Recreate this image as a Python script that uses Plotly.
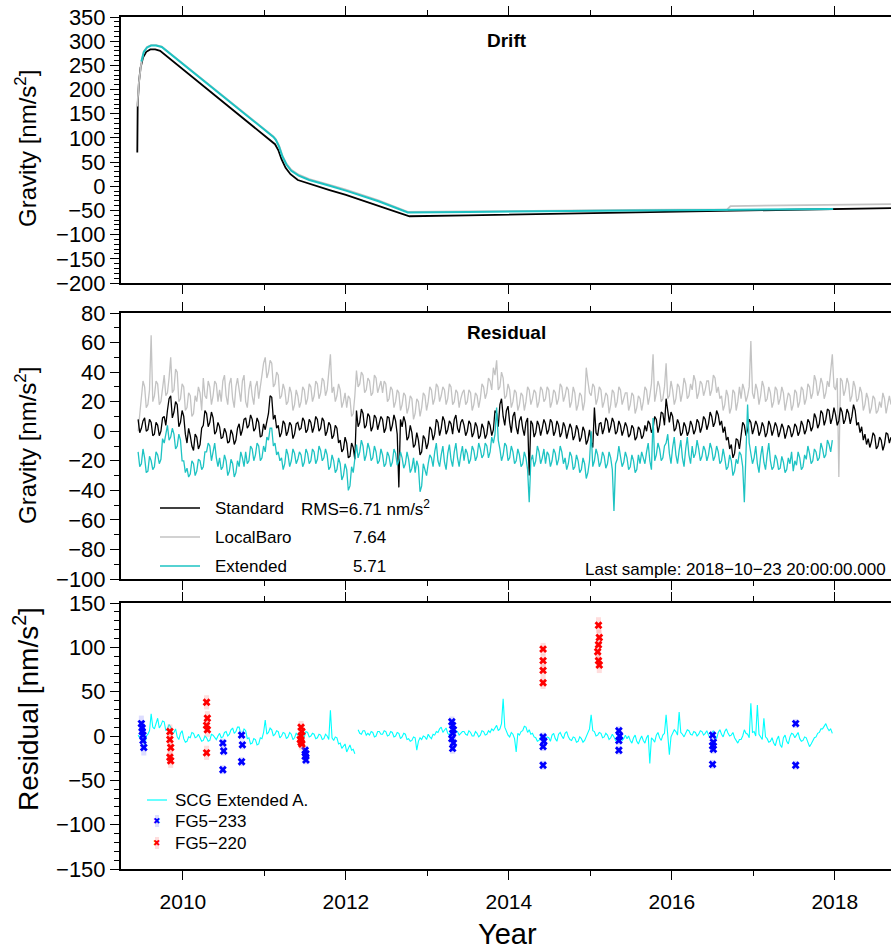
import numpy as np
import plotly.graph_objects as go

W, H = 891, 949
FONT = "Liberation Sans, Arial, Helvetica, sans-serif"

# ---------------- Drift panel (nm/s^2) ----------------
drift_std_t = [2009.44, 2009.445, 2009.46, 2009.48, 2009.51, 2009.55, 2009.60, 2009.66, 2009.72,
               2011.10, 2011.13, 2011.17, 2011.21, 2011.26, 2011.32, 2011.41, 2011.55, 2011.8,
               2012.0, 2012.4, 2012.78, 2013.5, 2014.5, 2015.5, 2016.5, 2017.5, 2018.69]
drift_std_v = [70, 170, 215, 245, 266, 278, 283, 283, 280,
               92, 87, 75, 56, 38, 25, 13, 5, -8,
               -18, -40, -62, -60, -57, -54, -51, -48, -45]

drift_baro_t = [2009.44, 2009.46, 2009.49, 2009.52, 2009.56, 2009.61, 2009.67, 2009.74,
                2011.11, 2011.14, 2011.18, 2011.22, 2011.27, 2011.33, 2011.42, 2011.55, 2011.8,
                2012.0, 2012.4, 2012.76, 2013.5, 2014.5, 2015.5, 2016.68, 2016.72, 2018.69]
drift_baro_v = [165, 215, 256, 279, 288, 292, 292, 289,
                103, 97, 84, 64, 47, 34, 24, 15, 3,
                -7, -29, -53, -52, -50, -49, -48, -41, -37]

drift_ext_t = [2009.49, 2009.52, 2009.56, 2009.61, 2009.67, 2009.74,
               2011.11, 2011.14, 2011.18, 2011.22, 2011.27, 2011.33, 2011.42, 2011.55, 2011.8,
               2012.0, 2012.4, 2012.76, 2013.5, 2014.5, 2015.5, 2016.5, 2017.98]
drift_ext_v = [258, 278, 287, 291, 291, 288,
               102, 96, 82, 62, 45, 32, 22, 13, 1,
               -9, -31, -54, -53, -51, -50, -49, -47]

# ---------------- Residual panel: regular sampling grid ----------------
RES_T0 = 2009.45
RES_STEP = 0.02

res_std = [
    8, -1, 2, 7, 9, 0, 1, 8, 6, -3, -2, 6, 4, -3, 0, 9, 10, 4, 14, 22, 24, 9, 13, 20, 18, 3, 6, 14, 10, -2,
    -8, 2, -3, -10, -13, -2, -4, -12, -9, 2, 4, 14, 12, 3, 6, 13, 9, -2, 0, 6,
    3, -5, -4, 2, -1, -8, -7, 1, -2, -9, -6, 2, 5, -3, 1, 8, 9, 2, 4, 11, 8, 0, 2, 9, 6, -4, -3, 5, 1, 8,
    12, 24, 23, 8, 11, 2, 4, -4, -1, 7, 5, -3, 0, 6, 4, -5, -2, 5, 6, 1,
    2, 9, 7, -1, 1, 8, 6, -1, 3, 10, 8, 0, 2, 9, 7, -3, 0, 6, 4, -5, -3, 4, 2, -8, -6, -14, -12, -4, -8, -18,
    -17, -8, -11, -19, 14, 3, 6, 15, 12, 2, 4, 12, 10, 0, 3, 11, 9, 1, 5, 10,
    8, -1, 2, 10, 9, 0, 4, 11, 7, -2, -38, 8, 3, 10, 6, -6, -4, 4, -1, -11, -9, -1, -6, -16, -14, -3, -5, -12, -8, 3,
    1, -6, -2, 8, 6, -3, 2, 10, 7, -2, 1, 7, 5, -2, 8, 11, 2, -1, 6, 8,
    4, -3, 0, 7, 5, -4, -1, 6, 3, -5, -3, 5, 2, -5, -2, 7, 4, -3, 1, 14, 12, 3, 18, 22, 10, 4, 14, 17, 6, -1,
    10, 13, 3, -2, 7, 10, 2, -3, 6, 9, -30, 7, 5, -4, -1, 7, 4, -3, 2, 8,
    5, -2, 1, 8, 6, -3, 0, 7, 4, -4, -1, 6, 3, -5, 0, 5, 2, -6, -3, 4, 1, -7, -4, 3, 0, -9, -6, 1, -7, -11,
    16, -1, -3, 5, 6, -2, 2, 9, 7, -1, 3, 9, 6, -2, 0, 7, 4, -3, 1, 6,
    3, -4, -2, 4, 2, -6, -4, 3, 1, -5, -3, 4, 0, 7, 5, -1, 2, 10, 8, -1, 4, 13, 12, 4, 22, 14, 6, 13, 10, 0,
    2, 8, 5, -3, -1, 6, 3, -3, 0, 7, 4, -2, 1, 8, 6, -1, 3, 10, 8, 1,
    5, 13, 10, 3, 6, 14, 11, 4, 7, -1, 3, -6, -4, -12, -9, -18, -15, -5, -6, -12, -2, 6, 4, -3, 1, 8, 6, -2, 2, 7,
    4, -3, 0, 6, 3, -4, -1, 7, 4, -3, 1, 6, 3, -4, 0, 5, 2, -5, -1, 4,
    2, -4, -1, 5, 3, -3, 0, 7, 4, -2, 1, 8, 6, 0, 3, 12, 9, 2, 5, 14, 12, 4, 8, 15, 14, 5, 9, 16, 11, 4,
    7, 16, 13, 5, 8, 15, 12, 5, 10, 18, 14, 4, 6, -1, 3, -6, -2, -9, -5, -11,
    -7, -1, -3, -12, -10, -4, -6, -13, -9, -1, -2, -8, -4,
]

res_baro = [
    0, 12, 22, 34, 30, 16, 18, 28, 65, 20, 24, 34, 32, 18, 20, 30, 38, 24, 26, 36,
    50, 26, 28, 42, 40, 20, 22, 32, 30, 14, 16, 26, 24, 10, 12, 24, 20, 30, 26, 14,
    36, 24, 22, 34, 30, 18, 24, 34, 32, 20,
    28, 20, 34, 38, 24, 18, 32, 36, 22, 16, 30, 36, 26, 20, 34, 38, 20, 16, 28, 34,
    24, 18, 30, 34, 22, 30, 38, 46, 50, 36, 40, 48, 46, 30, 32, 40, 38, 22, 24, 32,
    28, 18, 20, 30, 26, 14, 18, 28, 24, 16,
    20, 30, 28, 18, 22, 32, 30, 20, 24, 34, 32, 22, 26, 36, 34, 24, 28, 40, 52, 26,
    30, 20, 24, 32, 28, 16, 20, 26, 16, 24, 22, 10, 12, 24, 41, 30, 32, 40, 38, 26,
    28, 36, 34, 24, 26, 38, 36, 26, 30, 34,
    26, 34, 32, 20, 22, 30, 28, 16, 20, 28, 26, 14, 18, 26, 24, 12, 16, 24, 22, 8,
    12, 22, 20, 10, 16, 26, 24, 14, 20, 30, 28, 18, 22, 32, 30, 20, 24, 30, 28, 18,
    22, 32, 30, 18, 20, 28, 26, 16, 22, 26,
    28, 18, 20, 28, 26, 14, 18, 26, 24, 16, 22, 32, 30, 22, 26, 36, 34, 28, 43, 38,
    48, 28, 30, 40, 36, 22, 24, 32, 28, 16, 20, 28, 26, 14, 18, 26, 24, 14, 20, 30,
    28, 18, 22, 28, 26, 16, 20, 30, 28, 20,
    22, 30, 28, 16, 20, 28, 26, 18, 22, 32, 30, 20, 24, 30, 28, 16, 20, 30, 26, 14,
    18, 26, 24, 14, 20, 43, 34, 26, 24, 32, 30, 18, 22, 30, 28, 16, 20, 26, 24, 12,
    18, 28, 26, 16, 20, 30, 28, 18, 22, 26,
    26, 14, 18, 26, 24, 12, 16, 24, 22, 14, 20, 30, 28, 18, 24, 32, 52, 20, 26, 34,
    30, 20, 22, 30, 46, 22, 24, 34, 28, 18, 22, 32, 30, 20, 26, 36, 32, 22, 24, 32,
    28, 38, 34, 22, 26, 34, 32, 24, 28, 34,
    34, 24, 28, 38, 36, 26, 30, 22, 24, 14, 18, 28, 24, 12, 16, 28, 26, 14, 20, 30,
    22, 32, 28, 20, 24, 30, 61, 26, 22, 32, 28, 18, 24, 34, 30, 20, 22, 30, 26, 16,
    20, 30, 28, 18, 22, 30, 26, 14, 20, 26,
    24, 14, 18, 28, 26, 16, 20, 30, 28, 18, 22, 32, 30, 22, 26, 38, 34, 24, 28, 36,
    32, 22, 26, 34, 30, 40, 52, 30, 28, 36, -31, 36, 34, 24, 28, 36, 32, 20, 24, 34,
    30, 20, 22, 30, 26, 14, 18, 26, 22, 12,
    16, 24, 22, 12, 14, 20, 16, 26, 22, 12, 18, 24, 18,
]

res_ext = [
    -14, -24, -22, -12, -18, -28, -27, -17, -20, -26, -24, -14, -16, -22, -19, -5, -8, -2, 4, -6,
    -4, 2, -2, -12, -10, -2, -6, -20, -20, -28, -25, -31, -29, -20, -22, -30, -27, -19, -20, -26,
    -24, -14, -14, -8, -10, -20, -14, -8, -18, -24,
    -18, -26, -24, -16, -20, -30, -27, -19, -22, -31, -28, -20, -24, -14, -18, -24, -14, -22, -20, -10,
    -12, -20, -16, -8, -10, -20, -18, -10, -14, -4, -6, 2, 2, -10, -8, -16, -14, -20, -18, -26,
    -22, -12, -16, -24, -20, -12, -15, -22, -19, -14,
    -16, -24, -21, -12, -15, -22, -20, -12, -14, -22, -19, -10, -13, -20, -18, -12, -16, -26, -24, -16,
    -20, -28, -26, -18, -22, -33, -30, -22, -26, -40, -37, -24, -28, -16, -9, -18, -14, -6, -10, -20,
    -16, -8, -12, -20, -18, -10, -14, -22, -20, -12,
    -16, -24, -22, -14, -17, -24, -21, -12, -15, -23, -20, -14, -18, -25, -22, -14, -19, -28, -25, -18,
    -28, -20, -24, -41, -37, -22, -26, -30, -22, -16, -18, -24, -14, -8, -20, -24, -16, -10, -21, -26,
    -15, -9, -19, -24, -14, -8, -18, -24, -16, -10,
    -20, -12, -15, -22, -19, -10, -13, -20, -17, -8, -12, -18, -16, -8, -10, -18, -14, -4, -8, -2,
    16, -6, -12, -20, -16, -8, -10, -20, -18, -10, -14, -22, -20, -12, -16, -24, -22, -14, -18, -26,
    -48, -20, -16, -24, -20, -10, -14, -22, -18, -12,
    -22, -14, -16, -24, -20, -12, -15, -23, -19, -10, -14, -22, -18, -26, -22, -14, -17, -26, -24, -16,
    -20, -28, -26, -18, -22, -32, -28, -20, 0, -24, -20, -12, -16, -24, -21, -14, -17, -25, -22, -14,
    -18, -26, -54, -22, -19, -10, -17, -24, -21, -14,
    -18, -26, -24, -16, -20, -28, -26, -16, -22, -14, -18, -22, -14, -8, -20, -26, 9, -20, -16, -8,
    -12, -20, -18, -10, -8, -2, -15, -22, -11, -4, -16, -22, -13, -6, -18, -24, -12, -4, -16, -22,
    -10, -18, -15, -6, -12, -20, -17, -10, -13, -20,
    -16, -8, -12, -20, -17, -10, -14, -22, -20, -12, -18, -26, -24, -16, -20, -30, -27, -19, -22, -14,
    -16, -24, -48, -14, 18, -8, -14, -22, -18, -10, -22, -28, -17, -10, -21, -26, -16, -8, -20, -26,
    -24, -16, -19, -26, -25, -17, -21, -28, -26, -18,
    -22, -14, -27, -20, -23, -14, -18, -26, -24, -16, -19, -10, -15, -22, -20, -12, -14, -20, -18, -8,
    -12, -18, -16, -6, -9, -14, -6,
]

rms_labels = ["RMS=6.71 nm/s<sup>2</sup>", "7.64", "5.71"]
series_names = ["Standard", "LocalBaro", "Extended"]

# ---------------- Bottom panel ----------------
scg_ext_a = [
    1, -2, -3, 4, -12, 0, 2, 6, 25, 10, 8, 14, 20, 9, 12, 17, 16, 6, 8, 13,
    10, 2, 4, 8, -1, -4, 3, 6, -3, -7, -6, -1, -2, 4, 3, -2, -1, 2, -3, -6,
    -5, 0, -2, -6, -5, 2, 1, -2, -4, 0,
    3, -2, -1, 4, 5, 0, 2, 7, 9, 3, 5, 10, 10, 2, 3, 8, 6, -3, -2, -9,
    -8, -3, -4, -10, -9, -2, -3, 4, 18, 2, 4, 9, 7, 0, 2, 6, 5, -2, 0, 4,
    3, -3, -1, 4, 2, -4, -2, 3, 1, 4,
    3, -2, -1, 5, 4, -1, 0, 3, 2, -3, -2, 2, 1, -4, -3, 2, 0, -4, 29, -2,
    -5, -1, -2, -9, -8, -14, -12, -9, -18, -13, -10, -16, -15, -20,
    None, 7, 3, 2, 6, 6, 1, 3, 1, 5, 4, -1, 0, 5, 5, 2,
    2, 6, 5, 0, 1, 5, 4, -1, 0, 4, 3, -3, -1, 3, 2, -4, -3, -6, -5, -1,
    -2, -16, -6, -2, -4, 0, -1, -4, 2, -1, -3, 2, 1, 5, 4, 8, 10, 4, 6, 9,
    3, 1, 7, 3, 2, 6, 5, 1, 3, 5,
    5, 2, 1, 6, 4, 0, 0, 5, 3, -1, 1, 6, 5, 1, 2, 6, 4, 8, 6, 10,
    12, 6, 8, 14, 42, 10, 5, 1, -1, 4, 2, -3, -18, 3, 1, 5, 6, 11, 10, 4,
    7, 2, 3, -1, -2, -6, -5, -1, -3, -6,
    -5, -1, -2, -6, 1, 3, -3, -6, 2, 4, 0, -3, 3, 5, -1, -4, -5, -1, -2, -7,
    -6, -1, -3, -7, -5, 0, 4, 8, 24, 6, 5, 0, 1, 4, 3, -2, -1, 3, 1, -4,
    -2, 2, -1, -5, -4, 0, -1, -5, -3, 1,
    -3, 0, -5, -8, -2, 1, -6, -9, -4, 0, -5, -8, -2, 1, -31, -2, -4, -7, 1, 4,
    -2, -5, 1, 3, 24, 2, -21, -1, 3, 7, 5, 1, 27, 4, 2, -1, 3, 7, 6, 2,
    1, 5, 4, 0, 2, 6, 5, 1, 3, 6,
    1, -2, 3, 6, -1, -3, 4, 7, 2, -1, 5, 8, 3, 0, 1, 4, -2, -5, -8, -4,
    -4, 0, 7, 3, 2, -2, 37, 4, 5, 0, 35, 2, -1, -4, 20, -1, -3, -7, -6, -2,
    -8, -11, -4, 0, -10, -13, -2, 1, -6, -9,
    -1, 3, 2, -2, 1, 4, -3, -6, -5, -1, -2, -6, -12, -9, -6, -2, -1, 3, 4, 8,
    8, 12, 14, 9, 6, 8, 3,
]

fg233_t = [2009.49, 2009.50, 2009.50, 2009.51, 2009.51, 2009.52,
           2010.49, 2010.50, 2010.49,
           2010.72, 2010.73, 2010.72,
           2011.50, 2011.51, 2011.50, 2011.51,
           2013.30, 2013.31, 2013.32, 2013.31, 2013.30, 2013.32, 2013.31,
           2014.42, 2014.43, 2014.42, 2014.42,
           2015.35, 2015.36, 2015.35, 2015.35,
           2016.50, 2016.51, 2016.50, 2016.51, 2016.50,
           2017.52, 2017.52]
fg233_v = [14, 9, 5, 1, -5, -13,
           -8, -17, -38,
           1, -10, -29,
           -16, -20, -23, -27,
           16, 12, 7, 3, -3, -8, -14,
           -1, -6, -12, -33,
           6, 0, -5, -16,
           1, -7, -11, -15, -32,
           14, -33]
fg233_err = [9, 8, 9, 8, 9, 9,
             5, 5, 5,
             5, 5, 5,
             5, 5, 5, 5,
             6, 6, 6, 6, 6, 6, 6,
             5, 5, 5, 5,
             5, 5, 5, 5,
             5, 5, 5, 5, 5,
             5, 5]

fg220_t = [2009.84, 2009.84, 2009.85, 2009.84, 2009.85,
           2010.29, 2010.30, 2010.29, 2010.30, 2010.29,
           2011.45, 2011.46, 2011.45, 2011.44, 2011.45, 2011.46,
           2014.42, 2014.42, 2014.42, 2014.42,
           2015.10, 2015.11, 2015.10, 2015.09, 2015.10, 2015.11]
fg220_v = [5, -4, -13, -24, -28,
           38, 20, 12, 7, -19,
           10, 5, 0, -4, -7, -9,
           98, 85, 74, 60,
           125, 111, 103, 95, 85, 80]
fg220_err = [8, 8, 8, 8, 8,
             8, 8, 8, 8, 8,
             7, 7, 7, 7, 7, 7,
             7, 7, 7, 7,
             9, 9, 9, 9, 9, 9]

bottom_legend = ["SCG Extended A.", "FG5\u2212233", "FG5\u2212220"]

# ---------------- Colours ----------------
C_STD = "#000000"
C_BARO = "#c3c3c3"
C_EXT = "#1ec3c3"
C_SCG = "#00ffff"
C_233 = "#0000ff"
C_220 = "#ff0000"
SH_233 = "rgba(120,120,255,0.25)"
SH_220 = "rgba(255,120,120,0.25)"


def grid(n):
    return RES_T0 + RES_STEP * np.arange(n)


t_std = grid(len(res_std))
t_baro = grid(len(res_baro))
t_ext = grid(len(res_ext))
t_scg = grid(len(scg_ext_a))

fig = go.Figure()

# Drift
fig.add_trace(go.Scatter(x=drift_std_t, y=drift_std_v, mode="lines",
                         line=dict(color=C_STD, width=1.8), xaxis="x", yaxis="y", showlegend=False))
fig.add_trace(go.Scatter(x=drift_baro_t, y=drift_baro_v, mode="lines",
                         line=dict(color=C_BARO, width=1.8), xaxis="x", yaxis="y", showlegend=False))
fig.add_trace(go.Scatter(x=drift_ext_t, y=drift_ext_v, mode="lines",
                         line=dict(color=C_EXT, width=2), xaxis="x", yaxis="y", showlegend=False))

# Residual
fig.add_trace(go.Scatter(x=t_baro, y=res_baro, mode="lines",
                         line=dict(color=C_BARO, width=1.3), xaxis="x2", yaxis="y2", showlegend=False))
fig.add_trace(go.Scatter(x=t_std, y=res_std, mode="lines",
                         line=dict(color=C_STD, width=1.3), xaxis="x2", yaxis="y2", showlegend=False))
fig.add_trace(go.Scatter(x=t_ext, y=res_ext, mode="lines",
                         line=dict(color=C_EXT, width=1.3), xaxis="x2", yaxis="y2", showlegend=False))

# Bottom
fig.add_trace(go.Scatter(x=t_scg, y=scg_ext_a, mode="lines", connectgaps=False,
                         line=dict(color=C_SCG, width=1.1), xaxis="x3", yaxis="y3", showlegend=False))
fig.add_trace(go.Scatter(x=fg233_t, y=fg233_v, mode="markers",
                         marker=dict(symbol="x", size=7, color=C_233),
                         error_y=dict(type="data", array=fg233_err, color=SH_233, thickness=5, width=0),
                         xaxis="x3", yaxis="y3", showlegend=False))
fig.add_trace(go.Scatter(x=fg220_t, y=fg220_v, mode="markers",
                         marker=dict(symbol="x", size=7, color=C_220),
                         error_y=dict(type="data", array=fg220_err, color=SH_220, thickness=5, width=0),
                         xaxis="x3", yaxis="y3", showlegend=False))


def px(x):
    return x / W


def py(y):
    return 1 - y / H


XR = [2009.24, 2018.69]
xcommon = dict(range=XR, showline=True, linecolor="black", linewidth=2, mirror="allticks",
               ticks="outside", ticklen=9, tickwidth=1, tickcolor="black",
               tick0=2010, dtick=2, showgrid=False, zeroline=False, automargin=False,
               minor=dict(ticks="outside", ticklen=5, dtick=1, tick0=2009, tickcolor="black", showgrid=False),
               domain=[px(121), 1.0])
ycommon = dict(showline=True, linecolor="black", linewidth=2, mirror=False,
               ticks="outside", ticklen=9, tickwidth=1, tickcolor="black",
               showgrid=False, zeroline=False, automargin=False,
               tickfont=dict(family=FONT, size=22, color="black"))
yminor = dict(ticks="outside", ticklen=5, dtick=10, tickcolor="black", showgrid=False)

fig.update_layout(
    width=W, height=H, margin=dict(l=0, r=0, t=0, b=0, autoexpand=False),
    paper_bgcolor="white", plot_bgcolor="white",
    font=dict(family=FONT, color="black"),
    xaxis=dict(xcommon, anchor="y", showticklabels=False),
    xaxis2=dict(xcommon, anchor="y2", showticklabels=False),
    xaxis3=dict(xcommon, anchor="y3", showticklabels=True,
                tickfont=dict(family=FONT, size=21, color="black"), ticklabelstandoff=4),
    yaxis=dict(ycommon, anchor="x", domain=[py(283), py(17)], range=[-200, 350], dtick=50, minor=yminor),
    yaxis2=dict(ycommon, anchor="x2", domain=[py(579), py(313)], range=[-100, 80], dtick=20, minor=yminor),
    yaxis3=dict(ycommon, anchor="x3", domain=[py(869), py(603)], range=[-150, 150], dtick=50, minor=yminor),
)

ann = []
shapes = []


def text(x, y, s, size, color="black", family=FONT, **kw):
    d = dict(x=px(x), y=py(y), text=s, showarrow=False, xref="paper", yref="paper",
             xanchor="center", yanchor="middle",
             font=dict(size=size, family=family, color=color))
    d.update(kw)
    ann.append(d)


# Panel titles
text(507, 40, "<b>Drift</b>", 19)
text(507, 333, "<b>Residual</b>", 19)

# Axis titles
text(26, 149, "Gravity [nm/s<sup>2</sup>]", 24, textangle=-90)
text(26, 446, "Gravity [nm/s<sup>2</sup>]", 24, textangle=-90)
text(26, 709, "Residual [nm/s<sup>2</sup>]", 28, textangle=-90)
text(508, 934, "Year", 29)

# Residual legend
leg_cols = [C_STD, C_BARO, C_EXT]
leg_y = [508, 537, 566]
for name, col, yy, rms in zip(series_names, leg_cols, leg_y, rms_labels):
    shapes.append(dict(type="line", xref="paper", yref="paper", x0=px(160), x1=px(200),
                       y0=py(yy), y1=py(yy), line=dict(color=col, width=1.5)))
    text(213, yy, name, 17, xanchor="left")
    text(299 if yy == 508 else 351, yy, rms, 17, xanchor="left")

text(888, 569, "Last sample: 2018\u221210\u221223 20:00:00.000", 17, xanchor="right")

# Bottom legend
shapes.append(dict(type="line", xref="paper", yref="paper", x0=px(147), x1=px(167),
                   y0=py(800), y1=py(800), line=dict(color=C_SCG, width=1.2)))
for yy, col, shade in [(821, C_233, SH_233), (843, C_220, SH_220)]:
    shapes.append(dict(type="rect", xref="paper", yref="paper", x0=px(155), x1=px(159),
                       y0=py(yy + 6), y1=py(yy - 6), fillcolor=shade, line=dict(width=0)))
    text(157, yy, "\u2716", 9, color=col, family="DejaVu Sans")
for txt, yy in zip(bottom_legend, [800, 821, 843]):
    text(173, yy, txt, 17, xanchor="left")

fig.update_layout(annotations=ann, shapes=shapes)
fig.write_html("out.html")
